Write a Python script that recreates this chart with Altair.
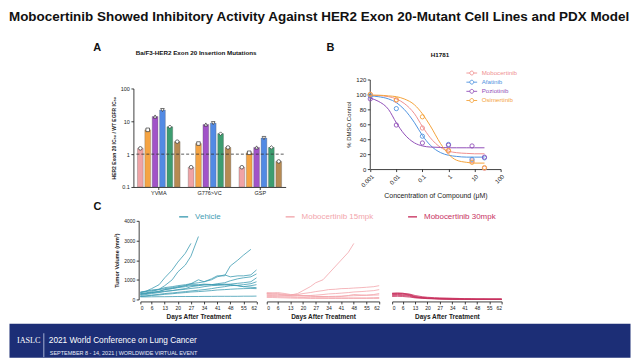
import altair as alt
import pandas as pd

FONT = "Liberation Sans"
TITLE_FONT = "'Liberation Sans Narrow', 'Arial Narrow', 'Liberation Sans', sans-serif"

title_text = "Mobocertinib Showed Inhibitory Activity Against HER2 Exon 20-Mutant Cell Lines and PDX Model"
title_a = "Ba/F3-HER2 Exon 20 Insertion Mutations"
title_b = "H1781"

# ---------------- Panel A ----------------
mutations = ["YVMA", "G776>VC", "GSP"]
drugs_a = ["Mobocertinib", "Osimertinib", "Poziotinib", "Afatinib", "Neratinib", "Pyrotinib"]
ratio_yvma = [1.5, 5.5, 14, 22, 6.8, 2.4]
ratio_g776 = [0.4, 2.1, 8.0, 8.8, 4.2, 1.6]
ratio_gsp = [0.4, 1.1, 1.6, 3.1, 1.6, 0.6]
ref_line = [1.0]
colors_a = ["#f0a3a6", "#f5a443", "#a153c8", "#528ae4", "#3d9d70", "#b68a52"]
labels_a = ["#eeaab0", "#f3ac5a", "#b06ad2", "#6d9bea", "#55ab84", "#c29a66"]
shapes_a = ["circle", "square", "triangle-up", "triangle-down", "diamond", "circle"]

# ---------------- Panel B ----------------
drugs_b = ["Mobocertinib", "Afatinib", "Poziotinib", "Osimertinib"]
colors_b = ["#ef8f8f", "#4f93e0", "#9150b8", "#f4a23a"]
conc_curve = [0.001, 0.002, 0.005, 0.01, 0.02, 0.05, 0.1, 0.2, 0.5, 1, 2, 5, 10, 24]
curve_mobo = [99, 98.5, 97, 94, 88, 74, 57, 42, 29, 24, 22, 21, 20.5, 20.5]
curve_afat = [98, 97, 94, 89, 80, 62, 45, 32, 22, 18.5, 17, 16, 16, 16]
curve_pozi = [95, 91, 80, 62, 47, 35, 31, 29.5, 29, 28.5, 28.5, 28.5, 28.5, 28.5]
curve_osim = [99, 99, 98, 97, 94, 86, 74, 58, 34, 20, 12, 9, 8, 8]
conc_pts = [0.001, 0.01, 0.1, 1, 8, 24]
pts_mobo = [100, 92, 55, 24, 11, 1]
pts_afat = [98, 81, 44, 33, 13, 15]
pts_pozi = [94, 59, 35, 32, 31, 16]
pts_osim = [100, 93, 70, 25, 9, 2]

# ---------------- Panel C ----------------
days = [0, 3, 6, 10, 13, 17, 20, 24, 27, 31, 34, 38, 41, 45, 48, 52, 55, 59, 62]
day_ticks = [0, 6, 13, 20, 27, 34, 41, 48, 55, 62]
veh_1 = [350, 420, 550, 750, 1100, 1500, 1900, 2350, 2850]
veh_2 = [300, 330, 400, 520, 700, 1000, 1400, 1750, 2200, 3200]
veh_3 = [250, 300, 350, 420, 500, 560, 620, 700, 800, 1000, 900, 1050, 1200, 1200, 1700, 2000, 2250, 2550]
veh_4 = [380, 420, 480, 520, 600, 650, 700, 750, 800, 850, 900, 1000, 1150, 1250, 1150, 1200, 1200, 1250, 1500]
veh_5 = [200, 250, 300, 350, 400, 450, 500, 550, 650, 700, 750, 750, 800, 850, 950, 1050, 1100, 1150, 1300]
veh_6 = [300, 320, 350, 380, 420, 450, 480, 520, 560, 600, 650, 700, 720, 750, 780, 820, 850, 900, 1100]
veh_7 = [150, 180, 220, 260, 300, 330, 360, 400, 430, 470, 500, 550, 600, 650, 700, 720, 750, 800, 900]
veh_8 = [250, 300, 350, 400, 500, 550, 600, 650, 700, 720, 740, 750, 750, 780, 760, 700, 650, 700, 750]
veh_9 = [150, 170, 200, 230, 260, 290, 320, 350, 380, 400, 420, 450, 480, 500, 520, 540, 550, 560, 550]
veh_10 = [130, 130, 135, 140, 140, 145, 150, 150, 150, 150, 155, 155, 160, 160, 160, 160, 165, 165, 170]
veh_11 = [350, 400, 450, 500, 550, 600, 650, 700, 750, 750, 780, 760, 750, 740, 720, 700, 650, 620, 600]
m15_1 = [300, 280, 260, 230, 220, 300, 450, 650, 850, 1000, 1300, 1700, 2000, 2400, 2850]
m15_2 = [250, 240, 220, 200, 200, 250, 300, 350, 400, 450, 500, 520, 550, 560, 580, 600, 620, 650, 700]
m15_3 = [200, 200, 180, 170, 160, 170, 180, 200, 220, 250, 280, 300, 320, 350, 380, 400, 420, 450, 500]
m15_4 = [300, 320, 350, 300, 250, 220, 200, 180, 160, 150, 140, 140, 150, 200, 250, 230, 220, 250, 300]
m15_5 = [150, 150, 140, 120, 110, 100, 100, 90, 90, 90, 80, 80, 80, 80, 80, 80, 80, 90, 100]
m15_6 = [100, 100, 90, 80, 70, 60, 60, 50, 50, 50, 50, 50, 50, 50, 50, 50, 50, 50, 50]
m15_7 = [350, 330, 300, 250, 220, 200, 180, 160, 150, 150, 150, 160, 170, 180, 190, 200, 210, 220, 230]
m30_1 = [320, 330, 320, 250, 150, 100, 80, 60, 50, 40, 30, 30, 20, 20, 20, 20, 20, 20, 20]
m30_2 = [280, 290, 280, 220, 130, 90, 70, 50, 40, 30, 20, 20, 15, 15, 10, 10, 10, 10, 10]
m30_3 = [250, 250, 240, 200, 120, 80, 60, 40, 30, 20, 20, 15, 10, 10, 10, 10, 10, 10, 10]
m30_4 = [200, 210, 200, 160, 100, 70, 50, 40, 30, 20, 15, 10, 10, 10, 5, 5, 5, 5, 5]
m30_5 = [150, 160, 150, 120, 80, 60, 40, 30, 20, 15, 10, 10, 5, 5, 5, 5, 5, 5, 5]
m30_6 = [300, 310, 300, 270, 200, 140, 110, 90, 80, 70, 60, 50, 40, 30, 20, 20, 10, 10, 10]
groups_c = ["Vehicle", "Mobocertinib 15mpk", "Mobocertinib 30mpk"]
colors_c = ["#3f9db3", "#f2a6ac", "#c8325f"]

banner_1 = "IASLC"
banner_2 = "2021 World Conference on Lung Cancer"
banner_3 = "SEPTEMBER 8 - 14, 2021 | WORLDWIDE VIRTUAL EVENT"

# ---------------- tables ----------------
rows = []
for m, vals in zip(mutations, [ratio_yvma, ratio_g776, ratio_gsp]):
    for d, v in zip(drugs_a, vals):
        rows.append({"mutation": m, "drug": d, "ratio": v})
df_a = pd.DataFrame(rows)
df_ref = pd.DataFrame({"ratio": ref_line})

rows = []
for d, vals in zip(drugs_b, [curve_mobo, curve_afat, curve_pozi, curve_osim]):
    for c, v in zip(conc_curve, vals):
        rows.append({"drug": d, "conc": c, "pct": v})
df_bc = pd.DataFrame(rows)
rows = []
for d, vals in zip(drugs_b, [pts_mobo, pts_afat, pts_pozi, pts_osim]):
    for c, v in zip(conc_pts, vals):
        rows.append({"drug": d, "conc": c, "pct": v})
df_bp = pd.DataFrame(rows)


def long_c(group, series):
    out = []
    for i, vals in enumerate(series):
        for dd, v in zip(days, vals):
            out.append({"group": group, "mouse": f"{group}-{i}", "day": dd, "volume": v})
    return pd.DataFrame(out)


df_c1 = long_c(groups_c[0], [veh_1, veh_2, veh_3, veh_4, veh_5, veh_6, veh_7, veh_8, veh_9, veh_10, veh_11])
df_c2 = long_c(groups_c[1], [m15_1, m15_2, m15_3, m15_4, m15_5, m15_6, m15_7])
df_c3 = long_c(groups_c[2], [m30_1, m30_2, m30_3, m30_4, m30_5, m30_6])


def ax(**kw):
    base = dict(grid=False, domainColor="#111", tickColor="#111", labelColor="#222",
                domainWidth=0.8, tickWidth=0.8, tickSize=2.5, labelFontSize=5.5,
                labelPadding=1.5, titleFontSize=6, titleColor="#222", titleFontWeight="bold",
                labelFont=FONT, titleFont=FONT)
    base.update(kw)
    return alt.Axis(**base)


def color_expr(names, cols):
    e = "'#333333'"
    for n, c in reversed(list(zip(names, cols))):
        e = f"datum.value == '{n}' ? '{c}' : ({e})"
    return e


# ---------------- Panel A chart ----------------
xA = alt.X("mutation:N", sort=mutations,
           scale=alt.Scale(domain=mutations, range=[125, 278], paddingInner=0.16, paddingOuter=0.08),
           axis=ax(orient="bottom", offset=-135, title=None, labelAngle=0))
xoA = alt.XOffset("drug:N", sort=drugs_a, scale=alt.Scale(domain=drugs_a, paddingInner=0.22))
yA = alt.Y("ratio:Q", scale=alt.Scale(type="log", domain=[0.1, 100], range=[178, 79]),
           axis=ax(orient="left", offset=-125, values=[0.1, 1, 10, 100], format="~g",
                   title="HER2 Exon 20 IC₅₀ / WT EGFR IC₅₀", titleFontSize=5))

bars_a = alt.Chart(df_a).mark_bar(stroke="#555", strokeWidth=0.3).encode(
    x=xA, xOffset=xoA, y=yA, y2=alt.datum(0.1),
    color=alt.Color("drug:N", scale=alt.Scale(domain=drugs_a, range=colors_a), legend=None))
rule_a = alt.Chart(df_ref).mark_rule(strokeDash=[3, 2], color="#333", strokeWidth=0.8).encode(
    y=yA, x=alt.value(128), x2=alt.value(276))
pts_a = alt.Chart(df_a).mark_point(filled=True, fill="white", stroke="#333", strokeWidth=0.7,
                                   size=13, opacity=1).encode(
    x=xA, xOffset=xoA, y=yA,
    shape=alt.Shape("drug:N", scale=alt.Scale(domain=drugs_a, range=shapes_a),
                    legend=alt.Legend(orient="none", legendX=248, legendY=49.7, title=None,
                                      labelFontSize=6, labelFont=FONT,
                                      labelColor=alt.ExprRef(expr=color_expr(drugs_a, labels_a)),
                                      symbolSize=14, rowPadding=3, labelOffset=6, padding=0)))
panel_a = alt.layer(bars_a, rule_a, pts_a)

# ---------------- Panel B chart ----------------
xB = alt.X("conc:Q", scale=alt.Scale(type="log", domain=[0.001, 100], range=[363, 494]),
           axis=ax(orient="bottom", offset=-153, values=[0.001, 0.01, 0.1, 1, 10, 100], format="~g",
                   labelAngle=315, labelFontSize=6, title="Concentration of Compound (μM)",
                   titleFontSize=7, titleFontWeight="normal"))
yB = alt.Y("pct:Q", scale=alt.Scale(domain=[0, 120], range=[160, 70]),
           axis=ax(orient="left", offset=-362.5, values=[0, 20, 40, 60, 80, 100, 120],
                   labelFontSize=6, title="% DMSO Control", titleFontSize=6, titleFontWeight="normal"))
legB = alt.Legend(orient="none", legendX=461.5, legendY=60, title=None, labelFontSize=6.2,
                  labelFont=FONT, labelColor=alt.ExprRef(expr=color_expr(drugs_b, colors_b)),
                  symbolType="M-1.8,0H-0.65M0.65,0H1.8M0.65,0A0.65,0.65,0,1,1,-0.65,0A0.65,0.65,0,1,1,0.65,0",
                  symbolSize=36, symbolStrokeWidth=0.9, symbolFillColor="white",
                  labelOffset=6.5, rowPadding=0.2, padding=0)
colB = alt.Color("drug:N", scale=alt.Scale(domain=drugs_b, range=colors_b), legend=legB)
lines_b = alt.Chart(df_bc).mark_line(interpolate="monotone", strokeWidth=1).encode(x=xB, y=yB, color=colB)
pts_b = alt.Chart(df_bp).mark_point(size=18, strokeWidth=0.9, filled=False, opacity=1).encode(
    x=xB, y=yB, color=colB)
panel_b = alt.layer(lines_b, pts_b)


# ---------------- Panel C charts ----------------
def panel_c(df, idx, xr, legx, show_y):
    x = alt.X("day:Q", scale=alt.Scale(domain=[0, 62], range=xr, nice=False),
              axis=ax(orient="bottom", offset=-20, values=day_ticks, labelFontSize=5,
                      title="Days After Treatment", titleFontSize=6.5, titlePadding=3))
    if show_y:
        y = alt.Y("volume:Q", scale=alt.Scale(domain=[0, 4000], range=[291, 212], nice=False),
                  axis=ax(orient="left", offset=-130.3, values=[0, 1000, 2000, 3000, 4000], format="d",
                          labelFontSize=5, title="Tumor Volume (mm³)", titleFontSize=5.5))
    else:
        y = alt.Y("volume:Q", scale=alt.Scale(domain=[0, 4000], range=[291, 212], nice=False), axis=None)
    col = alt.Color("group:N", scale=alt.Scale(domain=[groups_c[idx]], range=[colors_c[idx]]),
                    legend=alt.Legend(orient="none", legendX=legx, legendY=202.5, title=None,
                                      symbolType="stroke", symbolSize=81, symbolStrokeWidth=1.5,
                                      labelFontSize=8, labelFont=FONT, labelColor=colors_c[idx],
                                      labelOffset=6, padding=0))
    return alt.Chart(df).mark_line(strokeWidth=0.9, opacity=0.9).encode(
        x=x, y=y, detail="mouse:N", color=col)


c1 = panel_c(df_c1, 0, [132, 248.7], 170, True)
c2 = panel_c(df_c2, 1, [259, 372], 277, False)
c3 = panel_c(df_c3, 2, [385, 495], 400, False)


def label(text, x, y, size, weight="bold", color="#111", align="center", font=FONT):
    return alt.Chart(pd.DataFrame({"t": [text]})).mark_text(
        align=align, baseline="middle", fontSize=size, fontWeight=weight, color=color, font=font
    ).encode(x=alt.value(x), y=alt.value(y), text="t:N")


texts = [
    label(title_text, 0, 7, 13.5, align="left", font=TITLE_FONT),
    label("A", 88.7, 38, 11),
    label("B", 323, 38, 11),
    label("C", 89, 198, 11),
    label(title_a, 188, 43, 6.3),
    label(title_b, 433, 45, 6.3),
]

main = alt.layer(panel_a, panel_b, c1, c2, c3, *texts).resolve_scale(
    x="independent", y="independent", color="independent", shape="independent", xOffset="independent"
).properties(width=624, height=313)

sep = alt.Chart(pd.DataFrame({"t": [banner_1]})).mark_rule(color="#c8d0ea", strokeWidth=0.8).encode(
    x=alt.value(35), y=alt.value(10), y2=alt.value(34))
banner = alt.layer(
    label(banner_1, 8, 18, 8.2, weight="normal", color="white", align="left", font="Liberation Serif"),
    sep,
    label(banner_2, 40, 18, 8.3, weight="normal", color="white", align="left"),
    label(banner_3, 41, 29.5, 5.5, weight="normal", color="#e8ecf8", align="left"),
).properties(width=624, height=34, view=alt.ViewBackground(fill="#1c2e76", stroke="transparent"))

chart = alt.vconcat(main, banner, spacing=0).properties(padding=0, background="white").configure(
    font=FONT).configure_view(stroke="transparent")

chart.save("out.html", embed_options={"renderer": "svg", "actions": False})
